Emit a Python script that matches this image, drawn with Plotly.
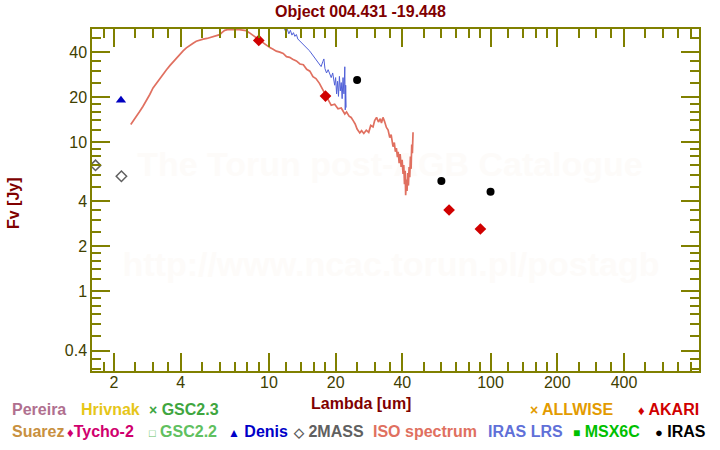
import plotly.graph_objects as go

# ---------------- data ----------------
twomass_wl = [1.65, 2.16]
twomass_f = [6.97, 5.89]
denis_wl = [2.15]
denis_f = [19.0]
akari_wl = [9.0, 18.0, 65.0, 90.0]
akari_f = [47.9, 20.3, 3.50, 2.61]
iras_wl = [25.0, 60.0, 100.0]
iras_f = [26.0, 5.48, 4.63]

iso_wl = [2.38, 2.45, 2.52, 2.61, 2.70, 2.80, 2.90, 3.00, 3.12, 3.24, 3.35, 3.45, 3.58, 3.70,
          3.82, 3.96, 4.10, 4.24, 4.40, 4.55, 4.70, 4.87, 5.05, 5.25, 5.45, 5.60, 5.80, 6.00,
          6.15, 6.32, 6.50, 6.70, 6.89, 7.10, 7.35, 7.60, 7.90, 8.15, 8.47, 8.75, 9.00, 9.35,
          9.75, 10.1, 10.4, 10.8, 11.2, 11.6, 12.0, 12.4, 12.8, 13.3, 13.8, 14.3, 14.8, 15.3,
          15.8, 16.3, 16.9, 17.4, 18.0, 18.5, 19.1, 19.8, 20.5, 21.2, 22.0, 22.4, 23.0, 23.5,
          24.0, 24.5, 25.0, 25.7, 26.2, 26.8, 27.5, 28.2, 28.8, 29.5, 30.0, 30.6, 31.2, 31.8,
          32.2, 32.7, 33.2, 33.9, 34.5, 35.1, 35.6, 36.0, 36.3, 36.8, 37.2, 37.6, 38.0, 38.3,
          38.7, 39.1, 39.5, 39.9, 40.3, 40.6, 40.9, 41.2, 41.4, 41.7, 42.0, 42.3, 42.6, 42.9,
          43.2, 43.5, 43.8, 44.1, 44.4, 44.7]
iso_f = [13.1, 13.9, 14.8, 16.0, 17.3, 18.9, 20.8, 23.0, 25.0, 27.0, 28.9, 30.5, 32.6, 34.5,
         36.4, 38.4, 40.8, 42.7, 44.6, 45.9, 47.3, 48.2, 48.9, 49.4, 50.2, 50.9, 51.5, 52.4,
         54.2, 56.0, 56.6, 56.8, 56.5, 56.9, 56.6, 56.2, 55.7, 54.0, 51.8, 49.8, 48.0, 46.0,
         44.2, 42.9, 42.0, 40.6, 40.0, 39.2, 37.3, 36.9, 35.8, 34.9, 33.3, 32.9, 30.7, 29.8,
         27.4, 26.6, 24.7, 22.6, 20.6, 19.2, 17.6, 17.9, 16.7, 16.9, 15.4, 15.9, 14.9, 14.6,
         13.9, 13.2, 12.2, 11.5, 11.9, 11.4, 12.0, 11.6, 12.9, 12.6, 13.9, 14.6, 13.6, 14.3,
         13.4, 14.6, 13.8, 12.5, 12.0, 10.7, 11.2, 9.6, 9.3, 9.9, 8.6, 9.1, 7.9, 8.6,
         7.2, 8.3, 6.8, 7.6, 6.1, 7.0, 5.2, 6.4, 4.4, 5.6, 4.7, 6.2, 5.1, 6.8,
         5.8, 8.0, 6.6, 9.6, 8.4, 11.6]

lrs_wl = [10.9, 11.3, 11.7, 11.9, 12.1, 12.3, 12.5, 12.7, 12.9, 13.1, 13.3, 13.5, 13.7, 14.0,
          14.3, 14.6, 14.9, 15.2, 15.5, 15.8, 16.1, 16.4, 16.7, 16.9, 17.2, 17.5, 17.7, 17.9,
          18.2, 18.5, 18.8, 19.1, 19.4, 19.6, 19.8, 20.0, 20.2, 20.4, 20.6, 20.8, 21.0, 21.2,
          21.4, 21.6, 21.8, 22.0, 22.1, 22.2, 22.3]
lrs_f = [68, 63, 58, 55, 57, 53, 56, 52, 54, 51, 52.5, 49, 48, 46.5,
         45, 43.5, 42.5, 41, 39.5, 38, 36.5, 35.5, 34, 33.6, 32, 34.5, 36, 31,
         29, 30.5, 28.5, 27, 29, 25.4, 24, 27, 21, 25.5, 20.2, 27.5, 22, 25,
         19.5, 27, 21, 31.9, 16.4, 24, 17]

x_tickvals = [2, 4, 10, 20, 40, 100, 200, 400]
y_tickvals = [0.4, 1, 2, 4, 10, 20, 40]
minor_mantissas = [1.2, 1.4, 1.6, 1.8, 2.5, 3, 3.5, 5, 6, 7, 8, 9]

title_text = "Object 004.431 -19.448"
xlabel = "Lambda [um]"
ylabel = "Fv [Jy]"

legend_row1 = [("Pereira", "#b0708f", 10), ("Hrivnak", "#e6c619", 79),
               ("<span style='font-size:14px'>×</span> GSC2.3", "#3fa63f", 147),
               ("<span style='font-size:14px'>×</span> ALLWISE", "#e39b00", 528),
               ("<span style='font-size:13px'>♦</span> AKARI", "#d00000", 636)]
legend_row2 = [("Suarez", "#c89040", 10),
               ("<span style='font-size:13px'>♦</span>Tycho-2", "#d0006e", 65),
               ("<span style='font-size:11px'>□</span> GSC2.2", "#60c060", 147),
               ("<span style='font-size:12px'>▲</span> Denis", "#0000c8", 226),
               ("<span style='font-size:13px'>◇</span> 2MASS", "#606060", 291),
               ("ISO spectrum", "#e07060", 371),
               ("IRAS LRS", "#6070d8", 486),
               ("<span style='font-size:12px'>■</span> MSX6C", "#00c000", 571),
               ("<span style='font-size:13px'>●</span> IRAS", "#000000", 653)]

# ---------------- layout geometry ----------------
W, H = 720, 450
ML, MR, MT, MB = 92, 21, 29, 79
PW, PH = W - ML - MR, H - MT - MB


def pxx(x):
    return (x - ML) / PW


def pyy(y):
    return (H - MB - y) / PH


FONT = "Liberation Sans, Arial, sans-serif"
AX = "#808000"
TICKFONT = "#404000"
WATERMARK = "#fdfbf9"

fig = go.Figure()
fig.add_trace(go.Scatter(x=iso_wl, y=iso_f, mode="lines", line=dict(color="#e07060", width=1.7),
                         name="ISO spectrum"))
fig.add_trace(go.Scatter(x=lrs_wl, y=lrs_f, mode="lines", line=dict(color="#5060d8", width=1),
                         name="IRAS LRS"))
fig.add_trace(go.Scatter(x=twomass_wl, y=twomass_f, mode="markers",
                         marker=dict(symbol="diamond-open", size=8, color="#606060",
                                     line=dict(width=1.5, color="#606060")), name="2MASS"))
fig.add_trace(go.Scatter(x=denis_wl, y=denis_f, mode="markers",
                         marker=dict(symbol="triangle-up", size=9, color="#0000c0"), name="Denis"))
fig.add_trace(go.Scatter(x=akari_wl, y=akari_f, mode="markers",
                         marker=dict(symbol="diamond", size=9, color="#d00000"), name="AKARI"))
fig.add_trace(go.Scatter(x=iras_wl, y=iras_f, mode="markers",
                         marker=dict(symbol="circle", size=8, color="#000000"), name="IRAS"))

x_minor = [m * 10 ** e for e in range(0, 3) for m in minor_mantissas]
y_minor = [m * 10 ** e for e in range(-1, 2) for m in minor_mantissas]

axis_common = dict(type="log", showgrid=False, zeroline=False, showline=True, linecolor=AX,
                   linewidth=1.5, mirror="allticks", ticks="inside", ticklen=18, tickwidth=1.5,
                   tickcolor=AX, tickfont=dict(family=FONT, size=16, color=TICKFONT),
                   tickmode="array")

fig.update_xaxes(**axis_common, range=[0.2017, 2.9406], tickvals=x_tickvals,
                 ticktext=[str(v) for v in x_tickvals], ticklabelstandoff=-4,
                 minor=dict(tickvals=x_minor, ticks="inside", ticklen=9, tickwidth=1.5,
                            tickcolor=AX, showgrid=False))
fig.update_yaxes(**axis_common, range=[-0.535, 1.757], tickvals=y_tickvals,
                 ticktext=[str(v) for v in y_tickvals],
                 minor=dict(tickvals=y_minor, ticks="inside", ticklen=9, tickwidth=1.5,
                            tickcolor=AX, showgrid=False))

annotations = [
    dict(text="<b>" + title_text + "</b>", x=pxx(360), y=pyy(11), xref="paper", yref="paper",
         showarrow=False, font=dict(family=FONT, size=16, color="#800000"),
         xanchor="center", yanchor="middle"),
    dict(text="<b>" + xlabel + "</b>", x=pxx(361), y=pyy(403), xref="paper", yref="paper",
         showarrow=False, font=dict(family=FONT, size=16, color="#800000"),
         xanchor="center", yanchor="middle"),
    dict(text="<b>" + ylabel + "</b>", x=pxx(13), y=pyy(203), xref="paper", yref="paper",
         showarrow=False, textangle=-90, font=dict(family=FONT, size=16, color="#800000"),
         xanchor="center", yanchor="middle"),
]
for txt, col, xl in legend_row1:
    annotations.append(dict(text="<b>" + txt + "</b>", x=pxx(xl), y=pyy(410), xref="paper",
                            yref="paper", showarrow=False, xanchor="left", yanchor="middle",
                            font=dict(family=FONT, size=16, color=col)))
for txt, col, xl in legend_row2:
    annotations.append(dict(text="<b>" + txt + "</b>", x=pxx(xl), y=pyy(431), xref="paper",
                            yref="paper", showarrow=False, xanchor="left", yanchor="middle",
                            font=dict(family=FONT, size=16, color=col)))

shapes = [
    dict(type="rect", xref="paper", yref="paper", x0=pxx(240), x1=pxx(540), y0=pyy(141),
         y1=pyy(181), line=dict(width=0), fillcolor="rgba(0,0,0,0)", layer="below",
         label=dict(text="<b>The Torun post-AGB Catalogue</b>", textposition="middle center",
                    font=dict(family=FONT, size=34, color=WATERMARK))),
    dict(type="rect", xref="paper", yref="paper", x0=pxx(241), x1=pxx(541), y0=pyy(241),
         y1=pyy(281), line=dict(width=0), fillcolor="rgba(0,0,0,0)", layer="below",
         label=dict(text="<b>http://www.ncac.torun.pl/postagb</b>", textposition="middle center",
                    font=dict(family=FONT, size=34, color=WATERMARK))),
]

fig.update_layout(width=W, height=H, margin=dict(l=ML, r=MR, t=MT, b=MB, pad=0),
                  paper_bgcolor="white", plot_bgcolor="white", showlegend=False,
                  annotations=annotations, shapes=shapes)

fig.write_html("out.html")
